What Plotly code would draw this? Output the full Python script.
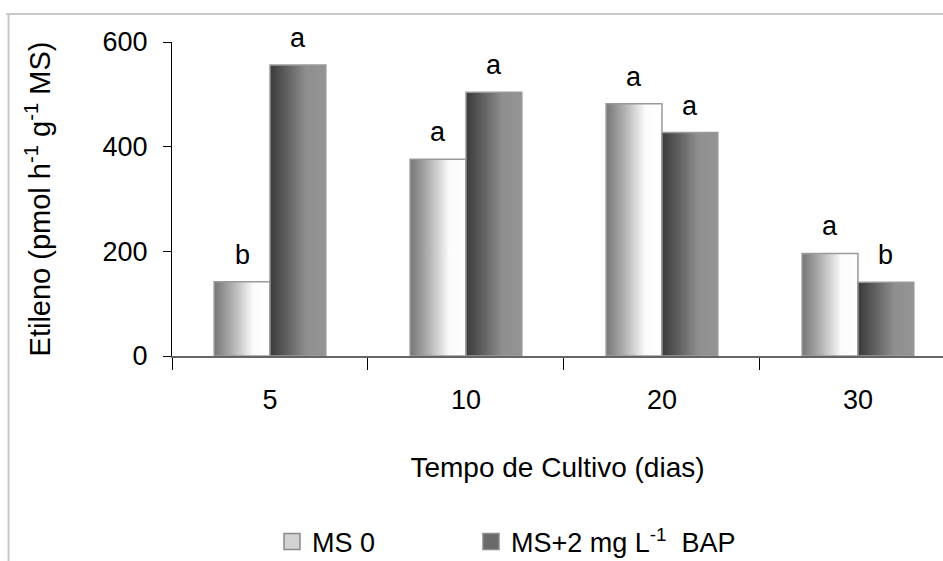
import plotly.graph_objects as go

# Ethylene production by culture time and medium
dias = ["5", "10", "20", "30"]
ms0 = [142, 376, 482, 196]
ms_bap = [556, 504, 427, 141]
letras_ms0 = ["b", "a", "a", "a"]
letras_bap = ["a", "a", "a", "b"]
series_names = ["MS 0", "MS+2 mg L<sup>-1</sup>  BAP"]

bar_w = 0.285
font = "Liberation Sans, Arial, sans-serif"

grad_light = [[0.0, "#767676"], [0.35, "#b4b4b4"], [0.7, "#fbfbfb"], [1.0, "#ffffff"]]
grad_dark = [[0.0, "#3a3a3a"], [0.35, "#666666"], [0.65, "#8f8f8f"], [1.0, "#949494"]]
legend_fill = ["#d2d2d2", "#6a6a6a"]
legend_ids = ["legend", "legend2"]

fig = go.Figure()


def add_bar(xc, left, value, scale, name):
    x0 = xc - bar_w if left else xc
    x1 = x0 + bar_w
    fig.add_trace(go.Scatter(
        x=[x0, x1, x1, x0, x0],
        y=[0, 0, value, value, 0],
        mode="lines",
        fill="toself",
        fillgradient=dict(type="horizontal", colorscale=scale),
        line=dict(color="#9a9a9a", width=1.5),
        name=name,
        showlegend=False,
        hoverinfo="skip",
    ))


for i in range(len(dias)):
    add_bar(i, True, ms0[i], grad_light, series_names[0])
for i in range(len(dias)):
    add_bar(i, False, ms_bap[i], grad_dark, series_names[1])

# legend entries (square swatches), one legend box per series
for name, col, lg in zip(series_names, legend_fill, legend_ids):
    fig.add_trace(go.Scatter(x=[None], y=[None], name=name, legend=lg, mode="markers",
                             marker=dict(symbol="square", size=18, color=col,
                                         line=dict(color="#8a8a8a", width=1.5))))

# significance letters above each bar
for i in range(len(dias)):
    fig.add_annotation(x=i - bar_w / 2, y=ms0[i], text=letras_ms0[i], showarrow=False,
                       yshift=27, font=dict(size=27, color="black", family=font))
    fig.add_annotation(x=i + bar_w / 2, y=ms_bap[i], text=letras_bap[i], showarrow=False,
                       yshift=27, font=dict(size=27, color="black", family=font))

# light frame at top and left
fig.add_shape(type="line", xref="paper", yref="paper", x0=-0.215, x1=1.0, y0=1.089, y1=1.089,
              line=dict(color="#c8c8c8", width=2))
fig.add_shape(type="line", xref="paper", yref="paper", x0=-0.212, x1=-0.212, y0=1.089, y1=-0.66,
              line=dict(color="#c8c8c8", width=2))

legend_style = dict(orientation="h", xanchor="left", yanchor="middle", yref="container",
                    y=0.034, font=dict(size=27, family=font), bgcolor="rgba(0,0,0,0)",
                    itemsizing="trace")

fig.update_layout(
    width=943, height=561,
    margin=dict(l=172, r=0, t=42, b=205, autoexpand=False),
    paper_bgcolor="white", plot_bgcolor="white",
    font=dict(family=font, color="black"),
    showlegend=True,
    legend=dict(x=0.1297, **legend_style),
    legend2=dict(x=0.3878, **legend_style),
    xaxis=dict(
        range=[-0.5, 3.434],
        tickvals=list(range(len(dias))), ticktext=dias,
        ticks="", showgrid=False, zeroline=False,
        showline=True, linecolor="#666666", linewidth=1.5,
        tickfont=dict(size=27, family=font), ticklabelstandoff=19,
        minor=dict(tick0=-0.5, dtick=1, ticks="outside", ticklen=12, tickcolor="black",
                   tickwidth=1, showgrid=False),
        title=dict(text="Tempo de Cultivo (dias)", font=dict(size=28, family=font), standoff=43),
    ),
    yaxis=dict(
        range=[0, 600], tickvals=[0, 200, 400, 600],
        ticks="outside", ticklen=8, tickcolor="black",
        showgrid=False, zeroline=False,
        showline=True, linecolor="black", linewidth=1,
        tickfont=dict(size=27, family=font), ticklabelstandoff=10,
        title=dict(text="Etileno (pmol h<sup>-1</sup> g<sup>-1</sup> MS)",
                   font=dict(size=29, family=font), standoff=43),
    ),
)

fig.write_html("out.html")
